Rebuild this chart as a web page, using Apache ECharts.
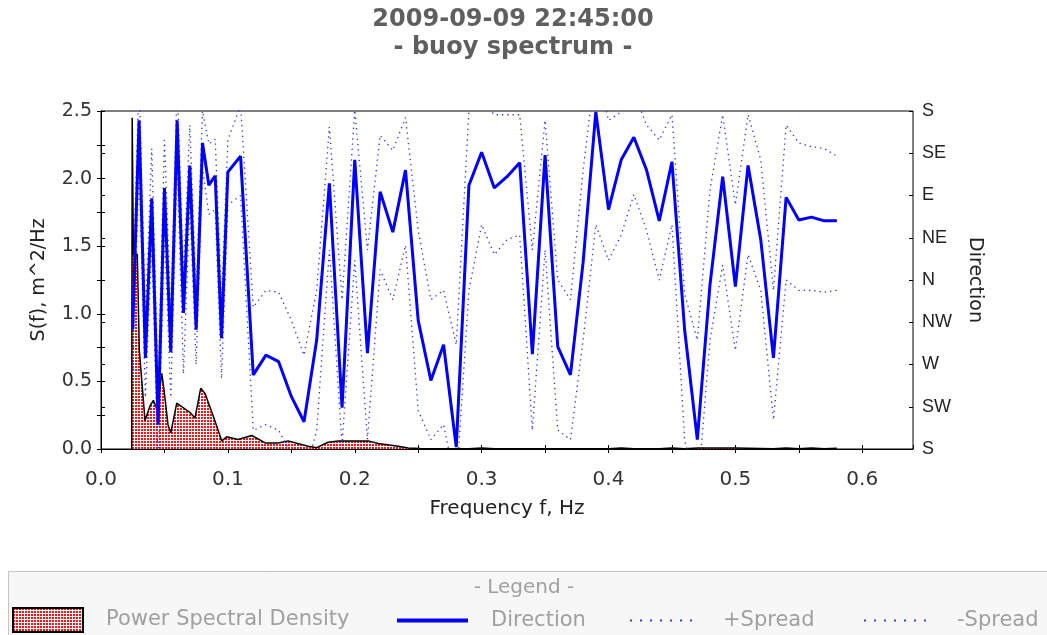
<!DOCTYPE html>
<html><head><meta charset="utf-8">
<script src="https://cdn.jsdelivr.net/npm/echarts@6/dist/echarts.min.js"></script>
<style>html,body{margin:0;padding:0;background:#fff}#c{width:1047px;height:635px}</style>
</head><body><div id="c"></div>
<script>
// ---------- data ----------
const titleLines = ['2009-09-09 22:45:00', '- buoy spectrum -'];
const xTickLabels = ['0.0','0.1','0.2','0.3','0.4','0.5','0.6'];
const compassLabels = ['S','SW','W','NW','N','NE','E','SE','S'];
const legendNames = ['Power Spectral Density','Direction','+Spread','-Spread'];

// frequency bins of the direction / spread series (Hz)
const dirFreq = [0.025,0.03,0.035,0.04,0.045,0.05,0.055,0.06,0.065,0.07,0.075,0.08,0.085,0.09,0.095,0.1,
  0.11,0.12,0.13,0.14,0.15,0.16,0.17,0.18,0.19,0.2,0.21,0.22,0.23,0.24,0.25,0.26,0.27,0.28,0.29,0.3,
  0.31,0.32,0.33,0.34,0.35,0.36,0.37,0.38,0.39,0.4,0.41,0.42,0.43,0.44,0.45,0.46,0.47,0.48,0.49,0.5,
  0.51,0.52,0.53,0.54,0.55,0.56,0.57,0.58];
// direction in degrees on the S(180) .. S(540) scale
const direction = [307,530,277,447,206,458,283,530,325,482,307,506,461,471,298,475,
  492,259,280,273,236,209,296,463,224,488,282,454,411,477,317,253,291,182,461,496,
  458,470,485,281,493,289,259,379,539,435,488,512,477,423,486,307,190,355,470,353,
  482,403,277,448,424,427,423,423];
const plusSpread = [350,575,320,500,250,509,325,570,365,525,345,540,505,510,340,509,
  546,331,349,347,317,280,349,523,339,541,392,514,498,533,413,339,349,291,541,552,
  536,536,536,392,530,360,339,477,590,530,539,560,525,509,536,345,296,456,536,440,
  536,488,349,525,506,502,500,492];
const minusSpread = [265,480,235,400,160,410,235,485,260,440,270,480,430,435,255,440,
  450,200,206,200,175,150,200,392,184,381,190,371,339,397,221,190,206,140,349,419,
  387,403,408,200,392,200,190,296,419,381,408,451,413,360,419,190,130,296,376,285,
  387,349,211,360,349,349,347,349];

// power spectral density (m^2/Hz) at the frequencies where the curve bends
const psdFreq = [0.0242,0.0246,0.0255,0.0286,0.0302,0.0347,0.0387,0.0413,0.0442,0.0479,0.0499,0.0528,
  0.055,0.0597,0.0702,0.0741,0.0786,0.082,0.0886,0.0952,0.0991,0.108,0.1189,0.1294,0.1396,0.1475,
  0.155,0.1633,0.170,0.179,0.187,0.2106,0.2185,0.2343,0.242,0.2516,0.27,0.29,0.3,0.31,0.33,0.36,
  0.40,0.41,0.42,0.44,0.45,0.46,0.47,0.5,0.51,0.53,0.54,0.55,0.56,0.57,0.58];
const psdValue = [0,2.45,1.44,1.44,0.73,0.21,0.32,0.36,0.29,0.56,0.42,0.18,
  0.12,0.34,0.27,0.23,0.45,0.41,0.24,0.06,0.09,0.07,0.10,0.045,0.045,0.06,
  0.04,0.02,0.01,0.05,0.06,0.06,0.04,0.02,0.008,0.003,0.002,0.002,0.008,0.002,0.002,0.002,
  0.002,0.008,0.002,0.002,0.008,0.002,0.008,0.008,0.006,0.002,0.008,0.002,0.008,0.002,0.006];

// ---------- styling helpers ----------
const FONT = 'DejaVu Sans';
function makeCanvas(w, h, draw) {
  const c = document.createElement('canvas'); c.width = w; c.height = h;
  draw(c.getContext('2d')); return c;
}
const psdPattern = { image: makeCanvas(3, 3, g => { g.fillStyle = '#ffffff'; g.fillRect(0,0,3,3); g.fillStyle = '#ff1010'; g.fillRect(0,0,2,2); }), repeat: 'repeat' };
const dotPattern = { image: makeCanvas(10, 2, g => { g.fillStyle = '#3040ff'; g.fillRect(0,0,2,2); }), repeat: 'repeat' };

const pairs = (xs, ys) => xs.map((x, i) => [x, ys[i]]);
const isTenth = v => Math.abs(v * 10 - Math.round(v * 10)) < 1e-6;

const chart = echarts.init(document.getElementById('c'), null, { renderer: 'canvas' });

const baseX = { type: 'value', min: 0, max: 0.64, interval: 0.05, position: 'bottom', splitLine: { show: false } };
const baseYL = { type: 'value', min: 0, max: 2.5, interval: 0.25, position: 'left', splitLine: { show: false } };
const baseYR = { type: 'value', min: 180, max: 540, interval: 45, position: 'right', splitLine: { show: false } };
const hiddenDup = { axisLine: { show: false }, axisLabel: { show: false }, axisTick: { show: true, inside: true, length: 4, lineStyle: { color: '#000' } } };

function legendBox(name, left, itemWidth, itemHeight, top, itemStyle) {
  return {
    left: left, top: top, orient: 'horizontal', selectedMode: false, padding: 0,
    itemWidth: itemWidth, itemHeight: itemHeight,
    data: [{ name: name, icon: 'rect', itemStyle: itemStyle }],
    textStyle: { fontFamily: FONT, fontSize: 21, color: '#a0a0a0', padding: [0, 0, 0, 18] }
  };
}

const option = {
  animation: false,
  backgroundColor: '#ffffff',
  title: {
    text: titleLines.join('\n'), left: 508, top: 1, textAlign: 'center',
    textStyle: { fontFamily: FONT, fontSize: 24, fontWeight: 'bold', color: '#5f5f5f', lineHeight: 28 }
  },
  grid: { left: 101, right: 134, top: 111, bottom: 186, show: true, borderColor: '#000', borderWidth: 1, backgroundColor: 'transparent' },
  xAxis: [
    Object.assign({}, baseX, {
      name: 'Frequency f, Hz', nameLocation: 'middle', nameGap: 50,
      nameTextStyle: { fontFamily: FONT, fontSize: 20, color: '#222' },
      axisLine: { show: true, lineStyle: { color: '#000', width: 1 } },
      axisTick: { show: true, length: 4, lineStyle: { color: '#000' } },
      axisLabel: { fontFamily: FONT, fontSize: 20, color: '#333', margin: 21, showMaxLabel: false,
        formatter: v => (isTenth(v) && v < 0.61) ? xTickLabels[Math.round(v * 10)] : '' }
    }),
    Object.assign({}, baseX, hiddenDup)
  ],
  yAxis: [
    Object.assign({}, baseYL, {
      name: 'S(f), m^2/Hz', nameLocation: 'middle', nameGap: 52,
      nameTextStyle: { fontFamily: FONT, fontSize: 19, color: '#222' },
      axisLine: { show: true, lineStyle: { color: '#000', width: 1 } },
      axisTick: { show: true, length: 4, lineStyle: { color: '#000' } },
      axisLabel: { fontFamily: FONT, fontSize: 19, color: '#333', margin: 9,
        formatter: v => Math.abs(v * 2 - Math.round(v * 2)) < 1e-6 ? v.toFixed(1) : '' }
    }),
    Object.assign({}, baseYR, {
      name: 'Direction', nameLocation: 'middle', nameGap: 52, nameRotate: -90,
      nameTextStyle: { fontFamily: FONT, fontSize: 19, color: '#222' },
      axisLine: { show: true, lineStyle: { color: '#000', width: 1 } },
      axisTick: { show: true, length: 4, lineStyle: { color: '#000' } },
      axisLabel: { fontFamily: 'Liberation Sans', fontSize: 18, color: '#222', margin: 9,
        formatter: v => compassLabels[Math.round((v - 180) / 45)] }
    }),
    Object.assign({}, baseYL, hiddenDup),
    Object.assign({}, baseYR, hiddenDup)
  ],
  legend: [
    legendBox(legendNames[0], 12, 70, 24, 607, { color: psdPattern, borderColor: '#000', borderWidth: 2 }),
    legendBox(legendNames[1], 397, 71, 4, 610, { color: '#0000ff', borderWidth: 0 }),
    legendBox(legendNames[2], 630, 70, 2, 610, { color: dotPattern, borderWidth: 0 }),
    legendBox(legendNames[3], 864, 70, 2, 610, { color: dotPattern, borderWidth: 0 })
  ],
  graphic: [
    { type: 'rect', z: -1, shape: { x: 8.5, y: 571.5, width: 1060, height: 80 }, style: { fill: '#f7f7f7', stroke: '#c4c4c4', lineWidth: 1 } },
    { type: 'text', z: 1, x: 524, y: 588, style: { text: '- Legend -', fill: '#a0a0a0', font: '20px "DejaVu Sans"', textAlign: 'center', textVerticalAlign: 'middle' } }
  ],
  series: [
    { name: legendNames[0], type: 'line', xAxisIndex: 0, yAxisIndex: 0, data: pairs(psdFreq, psdValue),
      symbol: 'none', smooth: false, lineStyle: { color: '#000', width: 1.5 },
      itemStyle: { color: '#ff1010' }, areaStyle: { color: psdPattern, opacity: 1 }, z: 2 },
    { name: legendNames[2], type: 'line', xAxisIndex: 0, yAxisIndex: 1, data: pairs(dirFreq, plusSpread),
      symbol: 'none', lineStyle: { color: '#2030ff', width: 1.3, type: [1.3, 4] }, itemStyle: { color: '#2030ff' }, z: 3 },
    { name: legendNames[3], type: 'line', xAxisIndex: 0, yAxisIndex: 1, data: pairs(dirFreq, minusSpread),
      symbol: 'none', lineStyle: { color: '#2030ff', width: 1.3, type: [1.3, 4] }, itemStyle: { color: '#2030ff' }, z: 3 },
    { name: legendNames[1], type: 'line', xAxisIndex: 0, yAxisIndex: 1, data: pairs(dirFreq, direction),
      symbol: 'none', lineStyle: { color: '#0000ff', width: 3 }, itemStyle: { color: '#0000ff' }, z: 4 }
  ]
};
chart.setOption(option);
</script>
</body></html>
